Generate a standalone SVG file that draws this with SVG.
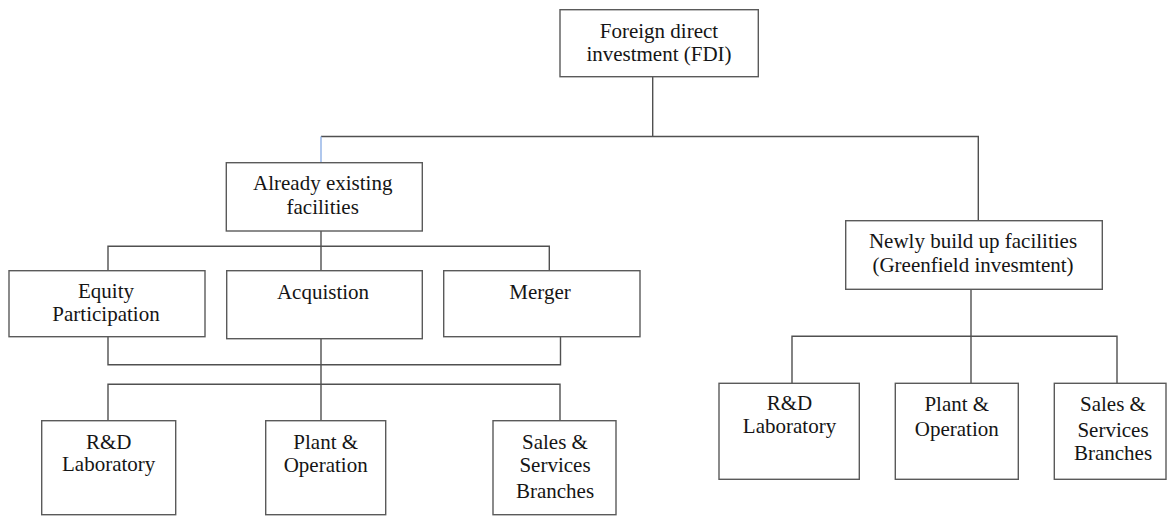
<svg xmlns="http://www.w3.org/2000/svg" width="1169" height="516" viewBox="0 0 1169 516">
<rect width="1169" height="516" fill="#fff"/>
<g id="connectors" fill="none" stroke="#505050" stroke-width="1.4">
<path d="M652.7 76.7V136.5M321 136.5H978.3V220.7"/>
<path stroke="#8fb0e6" d="M321 136.5V162.7"/>
<path d="M321 231V270.7M108 270.7V246.3H549.3V270.7"/>
<path d="M321 338.7V420.7M108 336.7V364.7H560.5V336.7M108 420.7V384.3H560V420.7"/>
<path d="M971 289.3V383.3M792 383.3V336.3H1117V383.3"/>
</g>
<g id="nodes" fill="#fff" stroke="#5a5a5a" stroke-width="1.4" font-family="Liberation Serif" font-size="21" text-anchor="middle">
<g id="fdi"><rect x="560" y="9.7" width="198.3" height="67"/><g fill="#151515" stroke="none"><text x="659" y="37.7">Foreign direct</text><text x="659" y="61">investment (FDI)</text></g></g>
<g id="existing"><rect x="226.3" y="162.7" width="196" height="68.3"/><g fill="#151515" stroke="none"><text x="322.7" y="190">Already existing</text><text x="322.7" y="214">facilities</text></g></g>
<g id="greenfield"><rect x="845.7" y="220.7" width="256.6" height="68.6"/><g fill="#151515" stroke="none"><text x="973" y="248.3">Newly build up facilities</text><text x="973" y="271.5">(Greenfield invesmtent)</text></g></g>
<g id="equity"><rect x="9" y="270.7" width="196" height="66"/><g fill="#151515" stroke="none"><text x="106" y="298">Equity</text><text x="106" y="321">Participation</text></g></g>
<g id="acquisition"><rect x="226.7" y="270.7" width="195.6" height="68"/><g fill="#151515" stroke="none"><text x="323" y="299">Acquistion</text></g></g>
<g id="merger"><rect x="443.7" y="270.7" width="196.3" height="66"/><g fill="#151515" stroke="none"><text x="540" y="299">Merger</text></g></g>
<g id="rd-left"><rect x="41.7" y="420.7" width="134" height="94"/><g fill="#151515" stroke="none"><text x="108.7" y="449">R&amp;D</text><text x="108.7" y="471">Laboratory</text></g></g>
<g id="plant-left"><rect x="265.7" y="420.7" width="120" height="94"/><g fill="#151515" stroke="none"><text x="325.7" y="449">Plant &amp;</text><text x="325.7" y="472">Operation</text></g></g>
<g id="sales-left"><rect x="493" y="420.7" width="123" height="94"/><g fill="#151515" stroke="none"><text x="555" y="448.5">Sales &amp;</text><text x="555" y="472">Services</text><text x="555" y="498">Branches</text></g></g>
<g id="rd-right"><rect x="719" y="383.3" width="140.3" height="96"/><g fill="#151515" stroke="none"><text x="789.5" y="410">R&amp;D</text><text x="789.5" y="433.3">Laboratory</text></g></g>
<g id="plant-right"><rect x="895.3" y="383.3" width="123" height="96"/><g fill="#151515" stroke="none"><text x="956.8" y="410.7">Plant &amp;</text><text x="956.8" y="435.5">Operation</text></g></g>
<g id="sales-right"><rect x="1054.3" y="383.3" width="111.7" height="96"/><g fill="#151515" stroke="none"><text x="1113" y="410.7">Sales &amp;</text><text x="1113" y="436.5">Services</text><text x="1113" y="460">Branches</text></g></g>
</g>
</svg>
